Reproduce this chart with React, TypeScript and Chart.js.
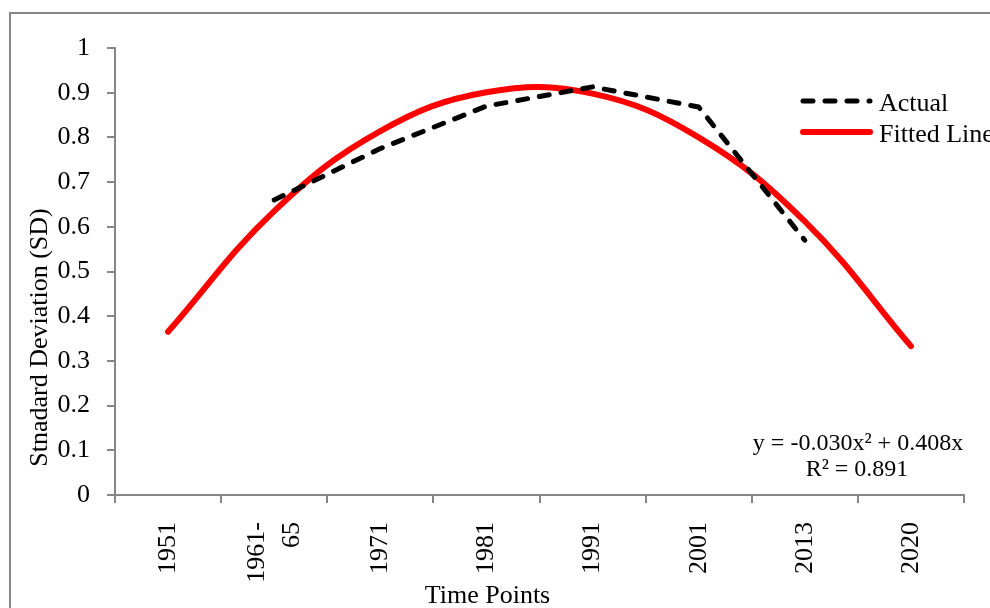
import React, { useEffect, useRef } from 'react';
import { Chart, registerables } from 'chart.js';

Chart.register(...registerables);

// ---- Data ----
const categories: (string | string[])[] = ['1951', ['1961-', '65'], '1971', '1981', '1991', '2001', '2013', '2020'];
const actualValues: (number | null)[] = [null, 0.66, 0.775, 0.87, 0.913, 0.868, 0.57, null];
const fittedValues: number[] = [0.365, 0.635, 0.814, 0.901, 0.898, 0.8, 0.612, 0.333];
const yTickValues: number[] = [0, 0.1, 0.2, 0.3, 0.4, 0.5, 0.6, 0.7, 0.8, 0.9, 1];
const seriesNames: string[] = ['Actual', 'Fitted Line'];
const equationLines: string[] = ['y = -0.030x\u00B2 + 0.408x', 'R\u00B2 = 0.891'];
const xTitle = 'Time Points';
const yTitle = 'Stnadard Deviation (SD)';

// ---- Styles ----
const FONT = '"Liberation Serif", "Times New Roman", serif';
const AXIS_GRAY = '#868686';

const overlayPlugin = {
  id: 'overlay',
  afterDraw(chart: any) {
    const ctx: CanvasRenderingContext2D = chart.ctx;
    const xScale = chart.scales.x;
    ctx.save();
    // outer frame
    ctx.strokeStyle = AXIS_GRAY;
    ctx.lineWidth = 2;
    ctx.strokeRect(10, 13, 1200, 1000);

    ctx.fillStyle = '#000';
    // x tick labels (rotated, multi-line centered on tick)
    ctx.font = `26px ${FONT}`;
    const labels = chart.data.labels as (string | string[])[];
    labels.forEach((lab, i) => {
      const lines = Array.isArray(lab) ? lab : [lab];
      const px = xScale.getPixelForTick(i);
      lines.forEach((ln, j) => {
        const xc = px + (j - (lines.length - 1) / 2) * 35;
        ctx.save();
        ctx.translate(xc, 522);
        ctx.rotate(-Math.PI / 2);
        ctx.textAlign = 'right';
        ctx.textBaseline = 'middle';
        ctx.fillText(ln, 0, 0);
        ctx.restore();
      });
    });

    // axis titles
    ctx.textAlign = 'center';
    ctx.textBaseline = 'alphabetic';
    ctx.fillText(xTitle, 487.5, 603);
    ctx.save();
    ctx.translate(47, 337.5);
    ctx.rotate(-Math.PI / 2);
    ctx.fillText(yTitle, 0, 0);
    ctx.restore();

    // legend
    chart.data.datasets.forEach((ds: any, i: number) => {
      const y = 101 + i * 31;
      ctx.save();
      ctx.strokeStyle = ds.borderColor;
      ctx.lineWidth = ds.borderWidth;
      ctx.setLineDash(ds.borderDash || []);
      ctx.lineCap = ds.borderCapStyle || 'butt';
      ctx.beginPath();
      ctx.moveTo(803, y);
      ctx.lineTo(870, y);
      ctx.stroke();
      ctx.restore();
      ctx.textAlign = 'left';
      ctx.fillText(ds.label, 879, y + 9.5);
    });

    // equation annotation
    ctx.font = `24px ${FONT}`;
    ctx.textAlign = 'center';
    ctx.fillText(equationLines[0], 858, 450);
    ctx.fillText(equationLines[1], 857, 476);
    ctx.restore();
  },
};

export default function App() {
  const canvasRef = useRef<HTMLCanvasElement | null>(null);

  useEffect(() => {
    if (!canvasRef.current) return;
    const chart = new Chart(canvasRef.current, {
      type: 'line',
      data: {
        labels: categories as any,
        datasets: [
          {
            label: seriesNames[0],
            data: actualValues,
            borderColor: '#000000',
            borderWidth: 5,
            borderDash: [10, 12],
            borderCapStyle: 'round',
            borderJoinStyle: 'round',
            pointRadius: 0,
            tension: 0,
            fill: false,
          },
          {
            label: seriesNames[1],
            data: fittedValues,
            borderColor: '#FF0000',
            borderWidth: 6,
            borderCapStyle: 'round',
            pointRadius: 0,
            tension: 0.4,
            fill: false,
          },
        ],
      },
      options: {
        responsive: false,
        animation: false,
        events: [],
        layout: { padding: { left: 0, right: 26, top: 48, bottom: 0 } },
        plugins: {
          legend: { display: false },
          tooltip: { enabled: false },
        },
        scales: {
          x: {
            type: 'category',
            offset: true,
            grid: {
              offset: true,
              drawOnChartArea: false,
              drawTicks: true,
              tickLength: 8,
              color: AXIS_GRAY,
              lineWidth: 2,
            },
            border: { display: true, color: AXIS_GRAY, width: 2 },
            ticks: { display: false, autoSkip: false },
            afterFit: (s: any) => {
              s.height = 113;
            },
          },
          y: {
            min: 0,
            max: 1,
            afterBuildTicks: (s: any) => {
              s.ticks = yTickValues.map((v) => ({ value: v }));
            },
            ticks: {
              padding: 17,
              color: '#000',
              font: { family: FONT, size: 26 },
              callback: (v: any) => String(+Number(v).toFixed(1)),
            },
            grid: {
              drawOnChartArea: false,
              drawTicks: true,
              tickLength: 8,
              color: AXIS_GRAY,
              lineWidth: 2,
            },
            border: { display: true, color: AXIS_GRAY, width: 2 },
            afterFit: (s: any) => {
              s.width = 115;
            },
          },
        },
      } as any,
      plugins: [overlayPlugin],
    });
    return () => chart.destroy();
  }, []);

  return (
    <div style={{ position: 'fixed', left: 0, top: 0, width: 990, height: 608, background: '#fff' }}>
      <canvas ref={canvasRef} width={990} height={608} style={{ display: 'block' }} />
    </div>
  );
}
